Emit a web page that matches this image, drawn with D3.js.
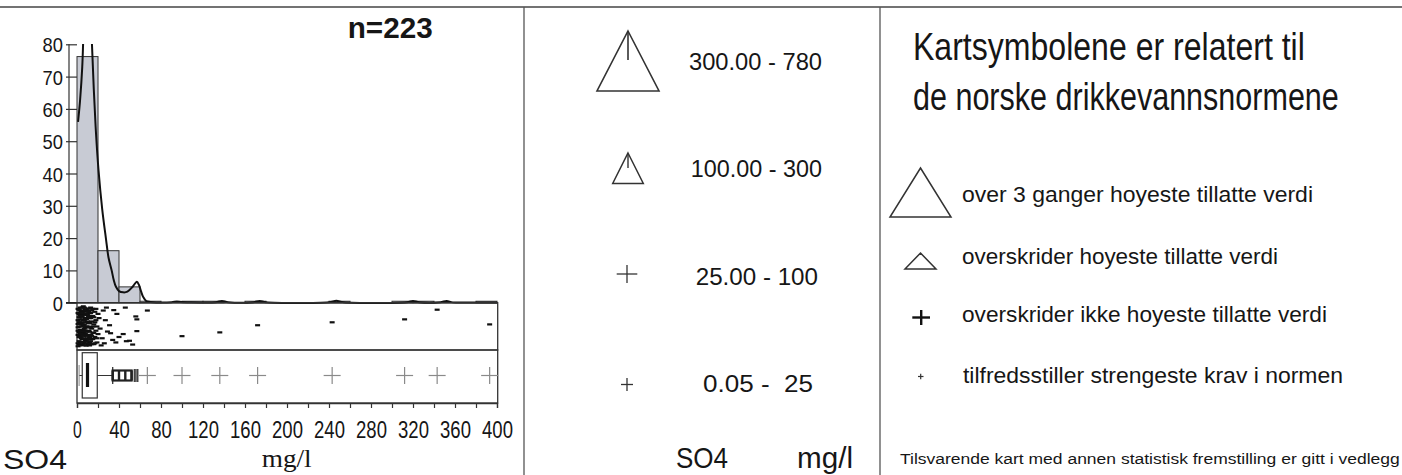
<!DOCTYPE html>
<html><head><meta charset="utf-8">
<script src="https://cdn.jsdelivr.net/npm/d3@7"></script>
<style>
html,body{margin:0;padding:0;background:#fff;}
svg{display:block;font-family:"Liberation Sans",Arial,Helvetica,sans-serif;}
</style></head>
<body><svg id="c" width="1402" height="475"></svg>
<script>
// ---------- data ----------
const histBins = [0,20,40,60,80,100,120,140,160,180,200,220,240,260,280,300,320,340,360,380,400];
const histPct  = [76.2,16.1,4.9,0.45,0,0.45,0.45,0,0.45,0,0,0,0.45,0,0,0.45,0.45,0,0,0.45];
const densX = [1,3,5,6,8,10,12,14,16,18,20.5,24,27.5,30,33,35,37,40,44,48,52,55,57,59,61,63,66,70,90,95,100,105,132,138,144,168,174,180,240,247,254,314,320,326,346,352,358,380,400];
const densY = [56,63,73,82,100,108,100,82,66,53,41,29,20,14,10,7,5,3.6,3.2,3.4,4.6,5.8,6.5,5.5,3.5,1.8,0.5,0.25,0.15,0.35,0.2,0.15,0.15,0.55,0.15,0.15,0.55,0.15,0.15,0.6,0.15,0.15,0.55,0.15,0.15,0.5,0.1,0.1,0.1];
const yTicks = [0,10,20,30,40,50,60,70,80];
const xTicks = [0,20,40,60,80,100,120,140,160,180,200,220,240,260,280,300,320,340,360,380,400];
const xLabels = ["0","40","80","120","160","200","240","280","320","360","400"];
const jitterVal = [1,3,5,7,2,9,4,6,11,8,1,3,12,5,10,2,7,14,4,9,6,1,13,3,8,11,5,2,10,7,4,12,6,15,9,1,16,3,13,8,5,2,11,6,17,4,10,7,14,1,3,9,12,6,18,5,15,2,8,11,4,13,7,16,10,1,3,6,19,9,12,5,2,14,8,17,4,11,7,15,3,10,6,13,1,18,5,9,12,2,16,8,4,7,20,11,3,14,6,19,10,5,1,13,9,17,2,15,8,12,4,7,18,6,10,11,3,16,20,14,1,9,5,13,8,2,12,7,4,19,15,6,10,3,17,11,
  100,136,172,243,312,343,393,67,56,57,57,46,35,31,47,40,34,50,53,25,27,22,29,24,26,21,28,23,37,44,32,38];
const jitterPos = [0.08,0.12,0.05,0.15,0.2,0.1,0.27,0.22,0.07,0.3,0.35,0.4,0.18,0.45,0.38,0.5,0.55,0.12,0.6,0.5,0.65,0.7,0.3,0.75,0.68,0.6,0.8,0.85,0.78,0.9,0.93,0.88,0.02,0.25,0.95,0.97,0.45,0.58,0.7,0.84,0.33,0.63,0.42,0.48,0.15,0.14,0.23,0.35,0.55,0.52,0.88,0.72,0.62,0.78,0.35,0.18,0.8,0.28,0.09,0.92,0.42,0.05,0.72,0.65,0.62,0.18,0.24,0.88,0.5,0.32,0.42,0.6,0.75,0.92,0.52,0.75,0.78,0.25,0.05,0.5,0.67,0.9,0.36,0.85,0.44,0.08,0.94,0.2,0.75,0.4,0.92,0.4,0.87,0.45,0.68,0.8,0.05,0.38,0.58,0.88,0.5,0.7,0.6,0.52,0.85,0.4,0.92,0.65,0.95,0.3,0.5,0.8,0.6,0.12,0.12,0.52,0.33,0.28,0.2,0.72,0.9,0.62,0.25,0.18,0.6,0.1,0.95,0.62,0.68,0.78,0.08,0.72,0.7,0.95,0.9,0.15,
  0.73,0.64,0.47,0.40,0.33,0.10,0.45,0.12,0.26,0.61,0.33,0.05,0.11,0.47,0.85,0.75,0.82,0.84,0.93,0.12,0.35,0.55,0.62,0.78,0.9,0.3,0.05,0.95,0.88,0.68,0.66,0.2];
const boxStats = {lowCap:2, q1:5, median:10, q3:19.3, highCap:34};
const nearOut = [34,40,46,52];
const nearOutThick = [55,57.5];
const farOut = [67,100,136,172,243,312,343,393];
const classLabels = ["300.00 - 780","100.00 - 300","25.00 - 100","0.05 -  25"];
const normTitle = ["Kartsymbolene er relatert til","de norske drikkevannsnormene"];
const normLabels = ["over 3 ganger hoyeste tillatte verdi","overskrider hoyeste tillatte verdi","overskrider ikke hoyeste tillatte verdi","tilfredsstiller strengeste krav i normen"];
const footNote = "Tilsvarende kart med annen statistisk fremstilling er gitt i vedlegg";

// ---------- drawing ----------
const svg = d3.select("#c");
const ink = "#161616";
const x = d3.scaleLinear().domain([0,400]).range([77,497]);
const y = d3.scaleLinear().domain([0,80]).range([302.7,44.3]);

// squeeze a text horizontally to a given width using a transform (keeps bbox honest)
function fitText(g, tx, ty, width, size, str){
  const t = g.append("text").attr("x",0).attr("y",0).attr("font-size",size).attr("fill",ink).text(str);
  const w = t.node().getComputedTextLength();
  t.attr("transform",`translate(${tx},${ty}) scale(${width/w},1)`);
  return t;
}

// frame lines
svg.append("line").attr("x1",0).attr("x2",1402).attr("y1",7).attr("y2",7).attr("stroke","#444").attr("stroke-width",1.6);
[524,880].forEach(v=>svg.append("line").attr("x1",v).attr("x2",v).attr("y1",7).attr("y2",475).attr("stroke","#555").attr("stroke-width",1.3));

// histogram bars
const bars = histPct.map((p,i)=>({x0:histBins[i],x1:histBins[i+1],p})).filter(d=>d.p>0);
svg.append("g").selectAll("rect").data(bars).join("rect")
  .attr("x",d=>x(d.x0)).attr("width",d=>x(d.x1)-x(d.x0))
  .attr("y",d=>y(d.p)).attr("height",d=>y(0)-y(d.p))
  .attr("fill","#c8cbd4").attr("stroke","#333").attr("stroke-width",1);

// density curve clipped
svg.append("clipPath").attr("id","pc").append("rect").attr("x",70).attr("y",44).attr("width",430).attr("height",262);
const dens = densX.map((v,i)=>[v,densY[i]]);
svg.append("path").datum(dens).attr("clip-path","url(#pc)")
  .attr("d",d3.line().x(d=>x(d[0])).y(d=>y(d[1])).curve(d3.curveCatmullRom))
  .attr("fill","none").attr("stroke","#111").attr("stroke-width",2);

// y axis
const ya = svg.append("g").attr("transform","translate(77,0)")
  .call(d3.axisLeft(y).tickValues(yTicks).tickSize(11).tickPadding(3));
ya.select(".domain").remove();
ya.selectAll("line").attr("stroke","#333").attr("stroke-width",1.2);
ya.selectAll("text").attr("font-size",21).attr("fill",ink).attr("font-family","Liberation Sans, Arial, sans-serif")
  .attr("dy","0.36em")
  .attr("textLength",function(){return this.textContent.length*10.2;}).attr("lengthAdjust","spacingAndGlyphs");
svg.append("line").attr("x1",69).attr("x2",69).attr("y1",y(80)).attr("y2",y(0)).attr("stroke","#333").attr("stroke-width",1.2);
svg.append("line").attr("x1",66).attr("x2",x(400)+0.7).attr("y1",y(0)).attr("y2",y(0)).attr("stroke","#222").attr("stroke-width",1.5);

// jitter panel
svg.append("rect").attr("x",77).attr("y",302.7).attr("width",420.7).attr("height",47.3).attr("fill","none").attr("stroke","#333").attr("stroke-width",1.3);
const yj = d3.scaleLinear().domain([0,1]).range([305.5,347.5]);
svg.append("g").selectAll("rect").data(jitterVal.map((v,i)=>[v,jitterPos[i]])).join("rect")
  .attr("x",d=>x(d[0])-2.5).attr("y",d=>yj(d[1])-1.1).attr("width",5).attr("height",2.2).attr("fill","#111");

// boxplot panel
svg.append("rect").attr("x",77).attr("y",350).attr("width",420.7).attr("height",53).attr("fill","none").attr("stroke","#333").attr("stroke-width",1.3);
const by = 375.5;
const bx = svg.append("g").attr("stroke","#333");
bx.append("line").attr("x1",x(boxStats.lowCap)).attr("x2",x(boxStats.q1)).attr("y1",by).attr("y2",by).attr("stroke-width",1);
bx.append("line").attr("x1",x(boxStats.lowCap)).attr("x2",x(boxStats.lowCap)).attr("y1",365).attr("y2",386).attr("stroke","#888").attr("stroke-width",1);
bx.append("rect").attr("x",x(boxStats.q1)).attr("width",x(boxStats.q3)-x(boxStats.q1)).attr("y",352.7).attr("height",45.3).attr("fill","none").attr("stroke-width",1.2);
bx.append("line").attr("x1",x(boxStats.median)).attr("x2",x(boxStats.median)).attr("y1",363).attr("y2",387).attr("stroke","#111").attr("stroke-width",3.2);
bx.append("line").attr("x1",x(boxStats.q3)).attr("x2",x(boxStats.highCap)).attr("y1",by).attr("y2",by).attr("stroke-width",1);
bx.append("line").attr("x1",x(boxStats.highCap)).attr("x2",x(boxStats.highCap)).attr("y1",367).attr("y2",384).attr("stroke-width",1.3);
bx.append("rect").attr("x",x(nearOut[0])).attr("width",x(nearOut[nearOut.length-1])-x(nearOut[0])).attr("y",370.5).attr("height",10).attr("fill","none").attr("stroke","#222").attr("stroke-width",2.2);
bx.selectAll(".no").data(nearOut).join("line").attr("x1",d=>x(d)).attr("x2",d=>x(d)).attr("y1",370.5).attr("y2",380.5).attr("stroke","#222").attr("stroke-width",2.4);
bx.selectAll(".nt").data(nearOutThick).join("line").attr("x1",d=>x(d)).attr("x2",d=>x(d)).attr("y1",369).attr("y2",382).attr("stroke","#444").attr("stroke-width",2.2);
const cr = svg.append("g").attr("stroke","#8a8a8a").attr("stroke-width",1.2);
farOut.forEach(v=>{
  cr.append("line").attr("x1",x(v)-8.5).attr("x2",x(v)+8.5).attr("y1",by).attr("y2",by);
  cr.append("line").attr("x1",x(v)).attr("x2",x(v)).attr("y1",by-8.5).attr("y2",by+8.5);
});

// x axis
const xa = svg.append("g").attr("transform","translate(0,403)")
  .call(d3.axisBottom(x).tickValues(xTicks).tickSize(5).tickFormat(d=>xLabels.includes(String(d))?String(d):""));
xa.select(".domain").attr("stroke","#333").attr("stroke-width",1.3);
xa.selectAll("line").attr("stroke","#333").attr("stroke-width",1.2);
xa.selectAll("text").attr("font-size",23.5).attr("fill",ink).attr("font-family","Liberation Sans, Arial, sans-serif")
  .attr("dy",null).attr("y",34.5)
  .attr("textLength",function(){return this.textContent.length ? this.textContent.length*10.3 - (this.textContent.length===1?1.5:0) : null;})
  .attr("lengthAdjust","spacingAndGlyphs");

// left panel texts
svg.append("text").attr("x",347.7).attr("y",38.3).attr("font-size",30).attr("font-weight","bold").attr("fill",ink)
  .attr("textLength",85).attr("lengthAdjust","spacingAndGlyphs").text("n=223");
svg.append("text").attr("x",3).attr("y",469).attr("font-size",27.5).attr("fill",ink)
  .attr("textLength",64).attr("lengthAdjust","spacingAndGlyphs").text("SO4");
svg.append("text").attr("x",261.7).attr("y",466.5).attr("font-size",26).attr("fill",ink)
  .attr("font-family","Liberation Serif, Times New Roman, serif")
  .attr("textLength",50).attr("lengthAdjust","spacingAndGlyphs").text("mg/l");

// middle panel: classes
const tri = (cx,top,w,h)=>`M${cx},${top}L${cx+w/2},${top+h}L${cx-w/2},${top+h}Z`;
const mid = svg.append("g").attr("stroke","#333").attr("fill","none");
mid.append("path").attr("d",tri(628,31,62,60)).attr("stroke-width",1.6);
mid.append("line").attr("x1",628).attr("x2",628).attr("y1",32).attr("y2",60).attr("stroke-width",1.6);
mid.append("path").attr("d",tri(628,153,30.6,30.4)).attr("stroke-width",1.5);
mid.append("line").attr("x1",628).attr("x2",628).attr("y1",154).attr("y2",168).attr("stroke-width",1.4);
mid.append("line").attr("x1",616.7).attr("x2",637.3).attr("y1",274).attr("y2",274).attr("stroke-width",1.3);
mid.append("line").attr("x1",627).attr("x2",627).attr("y1",265).attr("y2",283).attr("stroke-width",1.3);
mid.append("line").attr("x1",621).attr("x2",633).attr("y1",384.5).attr("y2",384.5).attr("stroke-width",1.3);
mid.append("line").attr("x1",627).attr("x2",627).attr("y1",378).attr("y2",391).attr("stroke-width",1.3);
const clsX = [689,690.7,695.7,703];
const clsY = [70,176.7,285,392];
const clsW = [133,131.3,122.3,110];
svg.append("g").selectAll("text").data(classLabels).join("text")
  .attr("x",(d,i)=>clsX[i]).attr("y",(d,i)=>clsY[i]).attr("font-size",24.5).attr("fill",ink)
  .style("white-space","pre").attr("textLength",(d,i)=>clsW[i]).attr("lengthAdjust","spacingAndGlyphs").text(d=>d);
svg.append("text").attr("x",676).attr("y",468).attr("font-size",29).attr("fill",ink)
  .attr("textLength",52).attr("lengthAdjust","spacingAndGlyphs").text("SO4");
svg.append("text").attr("x",797).attr("y",468).attr("font-size",29).attr("fill",ink)
  .attr("textLength",56).attr("lengthAdjust","spacingAndGlyphs").text("mg/l");

// right panel
const titleY = [60,110], titleW = [392,426];
const tg = svg.append("g");
normTitle.forEach((s,i)=>fitText(tg, 913, titleY[i], titleW[i], 38, s));
const rs = svg.append("g").attr("stroke","#333").attr("fill","none");
rs.append("path").attr("d",tri(920.5,168,61,49)).attr("stroke-width",1.5);
rs.append("path").attr("d",tri(920.5,253,31,16)).attr("stroke-width",1.5);
rs.append("line").attr("x1",912.3).attr("x2",930).attr("y1",317.5).attr("y2",317.5).attr("stroke","#111").attr("stroke-width",2.4);
rs.append("line").attr("x1",921.2).attr("x2",921.2).attr("y1",310).attr("y2",325).attr("stroke","#111").attr("stroke-width",2.4);
rs.append("line").attr("x1",918).attr("x2",923.5).attr("y1",376.5).attr("y2",376.5).attr("stroke-width",1.2);
rs.append("line").attr("x1",920.7).attr("x2",920.7).attr("y1",373.8).attr("y2",379.2).attr("stroke-width",1.2);
const normY = [202.3,264.3,321.7,383.3], normW = [351,316,365,380], normX=[962,962,962,963];
svg.append("g").selectAll("text").data(normLabels).join("text")
  .attr("x",(d,i)=>normX[i]).attr("y",(d,i)=>normY[i]).attr("font-size",22).attr("fill",ink)
  .attr("textLength",(d,i)=>normW[i]).attr("lengthAdjust","spacingAndGlyphs").text(d=>d);
fitText(svg, 900, 464.3, 500, 15.5, footNote);
</script></body></html>
